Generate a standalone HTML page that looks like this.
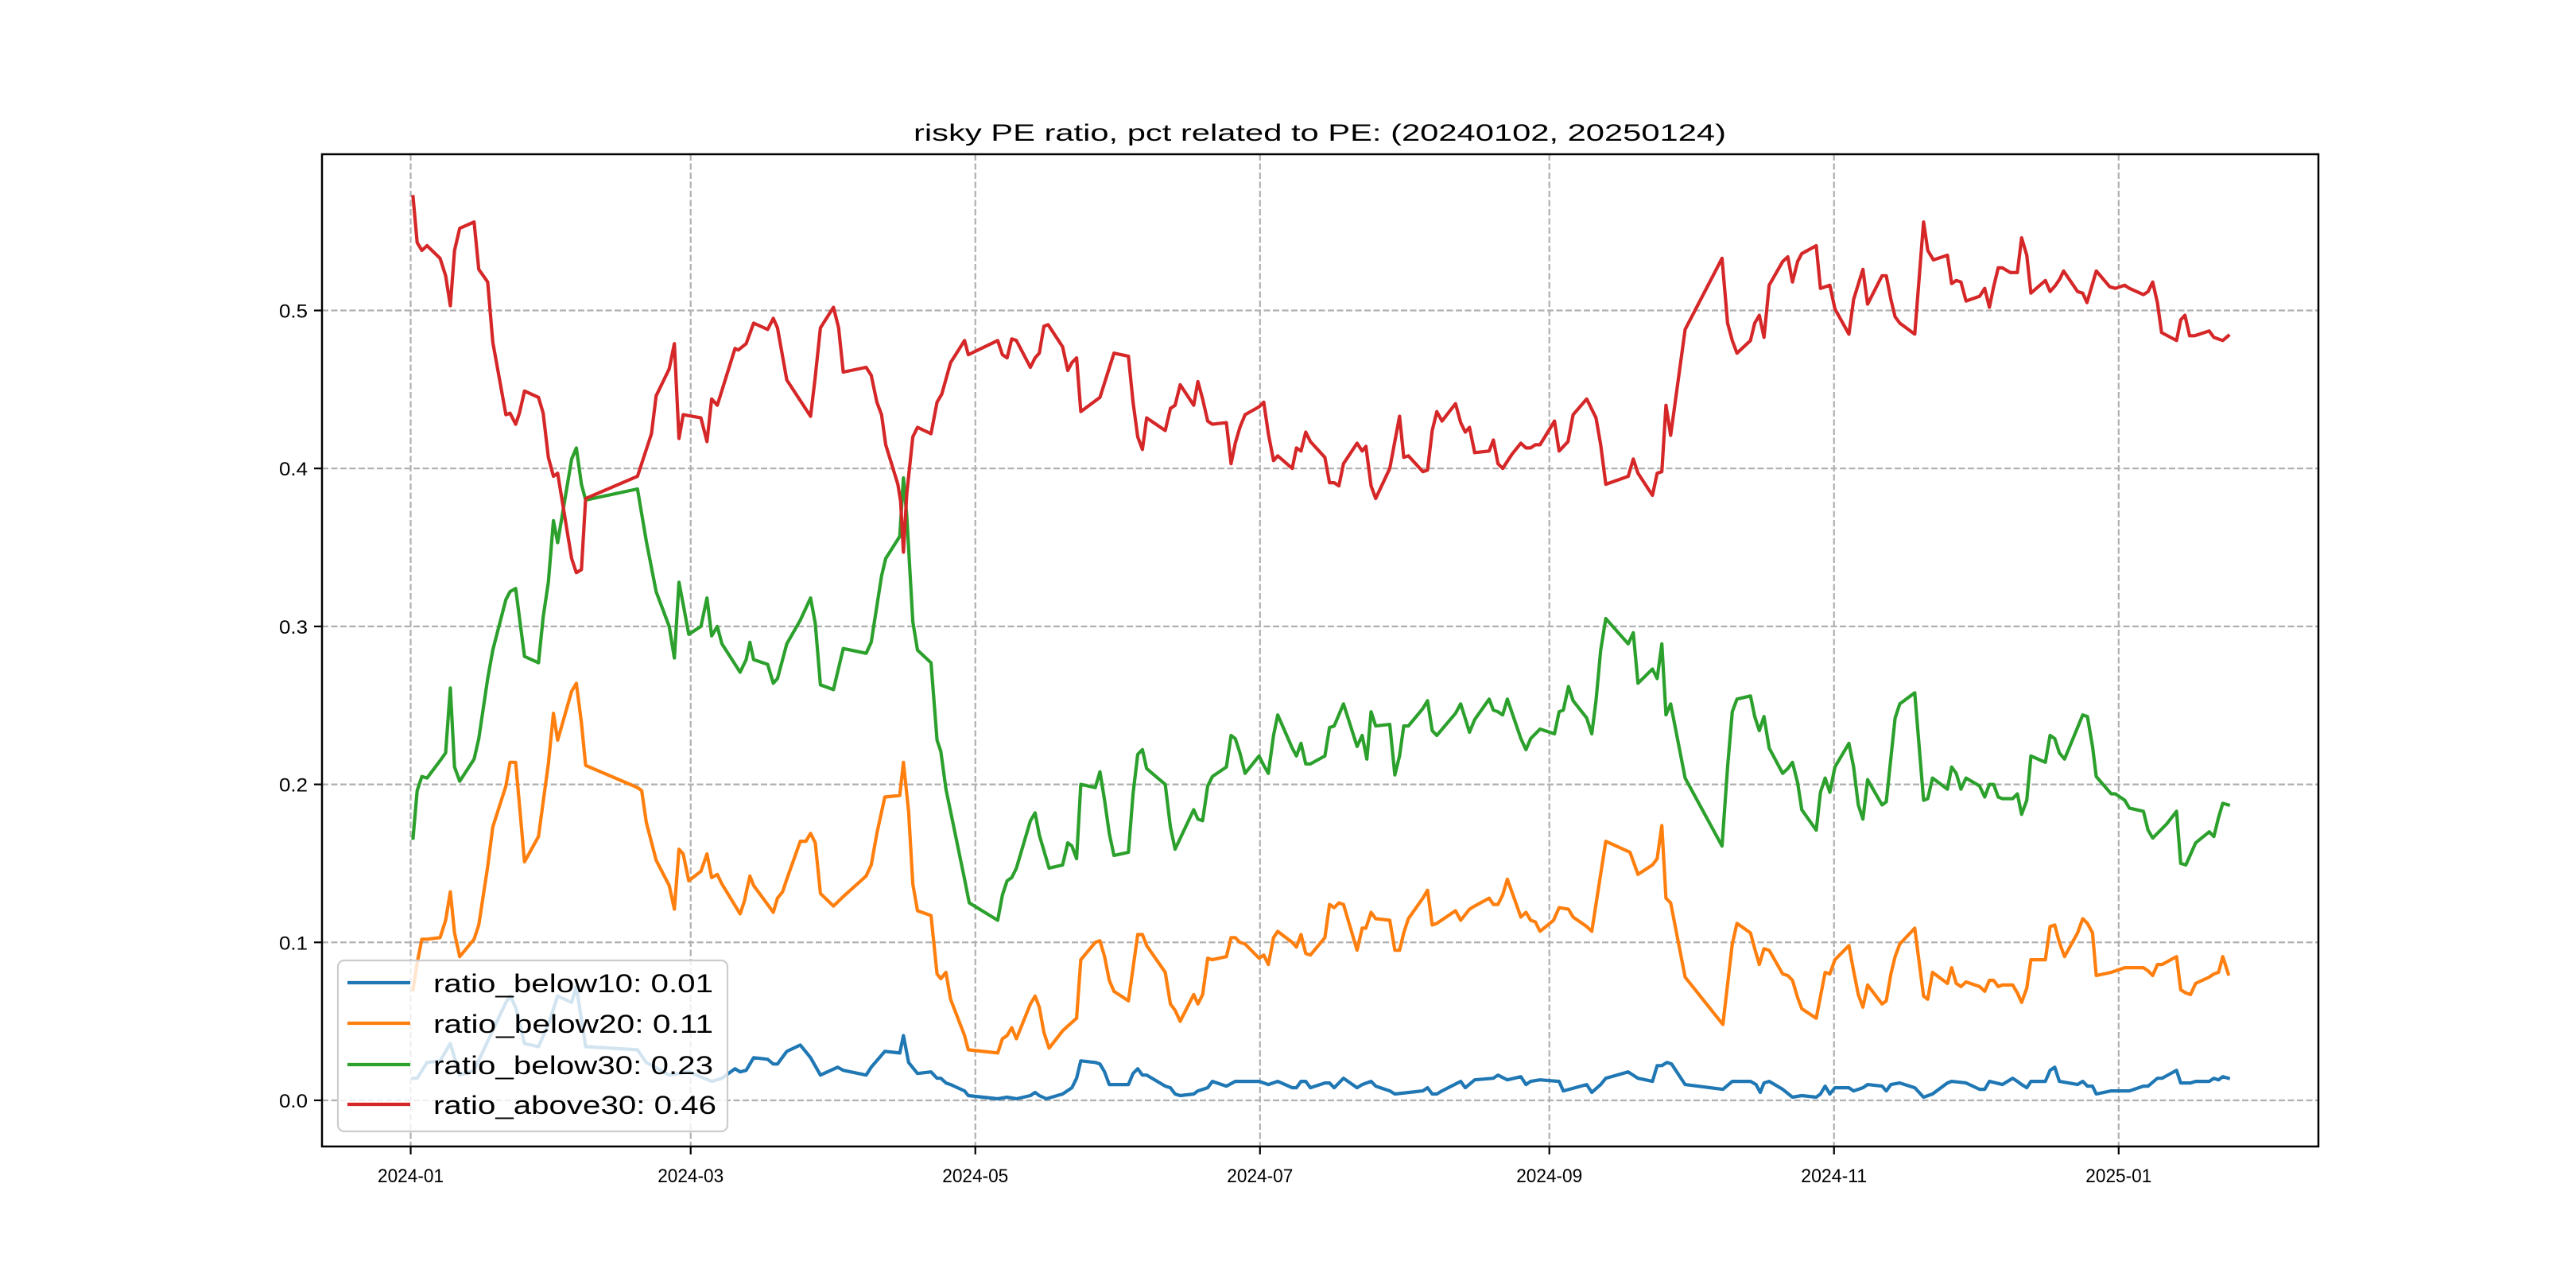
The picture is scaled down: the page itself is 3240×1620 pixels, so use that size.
<!DOCTYPE html>
<html><head><meta charset="utf-8"><title>risky PE ratio</title>
<style>html,body{margin:0;padding:0;background:#fff;}svg{display:block;}text{font-family:"Liberation Sans","WenQuanYi Zen Hei",sans-serif;fill:#000;}</style>
</head><body>
<svg id="chart" xmlns="http://www.w3.org/2000/svg" width="3240" height="1620" viewBox="0 0 3240 1620">
<rect x="0" y="0" width="3240" height="1620" fill="#fff"/>
<g id="grid"></g>
<g id="series"></g>
<rect x="405" y="194" width="2511" height="1248" fill="none" stroke="#000" stroke-width="2.5"/>
<g id="ticks"></g>
<text x="1660" y="177" font-size="30" text-anchor="middle" textLength="1022" lengthAdjust="spacingAndGlyphs">risky PE ratio, pct related to PE: (20240102, 20250124)</text>
<g id="legend"></g>
</svg>
<script>
// day offsets from 2024-01-01 and values per series
const xTickDays = [0, 60, 121, 182, 244, 305, 366];
const xTickLabels = ["2024-01","2024-03","2024-05","2024-07","2024-09","2024-11","2025-01"];
const yTicks = [0.0, 0.1, 0.2, 0.3, 0.4, 0.5];
const yTickLabels = ["0.0","0.1","0.2","0.3","0.4","0.5"];
const seriesNames = ["ratio_below10","ratio_below20","ratio_below30","ratio_above30"];
const legendValues = ["0.01","0.11","0.23","0.46"];

const daysB10 = [0.5,1.4,3.5,6.3,8.5,10.5,13.6,20.4,21.3,22.5,24.4,27.4,29.5,31.5,34.5,35.5,37.5,48.6,50.5,55.4,59.6,64.5,66.7,69.5,70.6,71.9,73.5,76.5,77.7,78.6,80.6,83.5,85.7,87.8,91.5,92.7,97.6,98.7,101.6,104.8,105.6,106.7,108.6,111.5,112.8,
113.6,114.7,115.7,118.7,119.5,125.8,127.8,129.8,132.8,133.8,134.7,136.2,139.7,141.7,142.7,143.6,146.7,147.7,148.7,149.7,150.7,153.8,154.8,155.8,156.8,157.7,161.7,162.8,163.8,164.9,167.8,168.7,170.8,171.8,174.8,176.7,177.7,181.8,183.8,185.8,188.9,189.8,190.8,191.8,192.8,195.9,196.9,197.9,199.9,202.8,203.9,205.8,206.8,209.8,210.9,216.9,217.9,218.9,219.9,221,225,226,
228,232,233,235,237.9,239,240,242,246.1,247,252,253.1,255,256.1,260.9,263,266.1,267.1,268.1,269.2,270.2,273.1,281.2,283.2,284.2,287.1,288.3,289.2,290,291.1,294,296.1,298.1,301.2,302.1,303.1,304.1,305.2,308.2,309.2,311.2,312.2,315.3,316.2,317.2,319.1,322.3,324.2,326.1,329.3,330.2,333.3,336.2,337.3,338.3,341.1,
343.3,344.3,345.2,346.3,347.2,350.3,351.3,352.3,353.3,357.2,358.3,359.3,360.4,361.2,364.4,368.3,371.3,372.3,374.3,375.3,378.4,379.3,381.4,382.5,385.4,386.4,387.4,388.3,389.5];
const valsB10 = [0.014,0.014,0.024,0.025,0.036,0.016,0.019,0.062,0.066,0.059,0.036,0.034,0.048,0.066,0.062,0.072,0.034,0.032,0.024,0.016,0.018,0.012,0.014,0.020,0.018,0.019,0.027,0.026,0.023,0.023,0.031,0.035,0.027,0.016,0.021,0.019,0.016,0.021,0.031,0.030,0.041,0.024,0.017,0.018,0.014,
0.014,0.011,0.010,0.006,0.003,0.001,0.002,0.001,0.003,0.005,0.003,0.001,0.004,0.008,0.014,0.025,0.024,0.023,0.018,0.010,0.010,0.010,0.017,0.020,0.016,0.016,0.009,0.008,0.004,0.003,0.004,0.006,0.008,0.012,0.009,0.012,0.012,0.012,0.010,0.012,0.008,0.008,0.012,0.012,0.008,0.011,0.011,0.008,0.014,0.008,0.010,0.012,0.009,0.006,0.004,0.006,0.008,0.004,0.004,0.006,0.012,0.008,
0.013,0.014,0.016,0.013,0.015,0.010,0.012,0.013,0.012,0.006,0.010,0.005,0.010,0.014,0.018,0.014,0.012,0.022,0.022,0.024,0.023,0.010,0.007,0.012,0.012,0.012,0.010,0.005,0.011,0.012,0.007,0.002,0.003,0.002,0.004,0.009,0.004,0.008,0.008,0.006,0.008,0.010,0.009,0.006,0.010,0.011,0.008,0.002,0.004,0.011,0.012,0.011,0.007,0.007,0.012,0.010,
0.014,0.012,0.010,0.008,0.012,0.012,0.019,0.021,0.012,0.010,0.012,0.009,0.009,0.004,0.006,0.006,0.009,0.009,0.014,0.014,0.019,0.011,0.011,0.012,0.012,0.014,0.013,0.015,0.014];

const daysB20 = [0.5,1.4,2.4,3.5,6.3,7.5,8.5,9.4,10.5,13.6,14.6,16.5,17.6,20.4,21.3,22.5,24.4,27.4,28.4,29.5,30.6,31.5,34.5,35.5,36.6,37.5,48.6,49.5,50.5,52.6,55.4,56.5,57.5,58.4,59.6,62.2,63.5,64.5,65.7,66.7,70.6,71.5,72.7,73.5,76.5,77.7,78.6,79.7,80.6,83.5,84.7,85.7,86.7,87.8,90.6,92.7,97.6,98.7,99.9,101.6,104.8,105.6,106.7,107.6,108.6,111.5,112.8,
113.6,114.7,115.7,118.7,119.5,125.8,126.8,127.8,128.8,129.8,132.8,133.8,134.7,135.7,136.8,139.7,140.8,142.7,143.6,146.7,147.7,148.7,149.7,150.7,153.8,155.8,156.8,157.7,161.7,162.8,163.8,164.9,167.8,168.7,169.7,170.8,171.8,174.8,175.8,176.7,177.7,178.8,181.8,182.8,183.8,184.9,185.8,188.9,189.8,190.8,191.8,192.8,195.9,196.9,197.9,198.9,199.9,202.8,203.9,204.7,205.8,206.8,209.8,210.9,211.9,212.8,213.8,216.9,217.9,218.9,219.9,223.9,225,226.9,
228,231.1,232,233,234,235,237.9,239,240,241,242,244.9,246.1,248.1,249.1,252,253.1,256.1,261.3,263,266.1,267.1,268.1,269,270,273.1,281.2,283.2,284.2,287.1,288,289,290,291.1,294,295.1,296.1,297.2,298.1,301.2,303.1,304.1,305.2,308.2,309.2,310.2,311.2,312.2,315.3,316.2,317.2,318.1,319.1,322.3,324.2,325.1,326.1,329.3,330.2,331.2,332.2,333.3,336.2,337.3,338.3,339.2,340.2,341.1,
343.3,344.3,345.2,346.3,347.2,350.3,351.3,352.3,353.3,354.4,357.2,358.3,359.3,360.4,361.2,364.4,367.3,371.3,372.3,373.3,374.3,375.3,378.4,379.3,380.4,381.4,382.5,385.4,386.4,387.4,388.3,389.5];
const valsB20 = [0.070,0.087,0.102,0.102,0.103,0.114,0.132,0.106,0.091,0.102,0.111,0.148,0.173,0.199,0.214,0.214,0.151,0.167,0.189,0.213,0.245,0.228,0.259,0.264,0.239,0.212,0.198,0.196,0.176,0.152,0.136,0.121,0.159,0.156,0.139,0.145,0.156,0.141,0.143,0.137,0.118,0.126,0.142,0.136,0.124,0.119,0.128,0.132,0.140,0.164,0.164,0.169,0.163,0.131,0.123,0.129,0.142,0.149,0.169,0.192,0.193,0.214,0.183,0.137,0.120,0.117,0.080,
0.077,0.081,0.064,0.041,0.032,0.030,0.039,0.041,0.046,0.039,0.061,0.066,0.059,0.043,0.033,0.044,0.047,0.052,0.089,0.100,0.101,0.091,0.076,0.069,0.063,0.105,0.105,0.098,0.081,0.061,0.057,0.050,0.067,0.061,0.067,0.090,0.089,0.091,0.103,0.103,0.100,0.099,0.090,0.092,0.086,0.103,0.107,0.100,0.097,0.105,0.093,0.092,0.103,0.124,0.122,0.125,0.124,0.095,0.109,0.109,0.119,0.115,0.114,0.095,0.095,0.106,0.115,0.128,0.133,0.111,0.112,0.120,0.114,0.121,
0.123,0.128,0.124,0.124,0.130,0.140,0.116,0.119,0.114,0.113,0.107,0.114,0.122,0.121,0.116,0.110,0.107,0.164,0.157,0.143,0.149,0.153,0.174,0.128,0.125,0.078,0.048,0.099,0.112,0.106,0.096,0.086,0.096,0.095,0.080,0.079,0.076,0.065,0.058,0.052,0.081,0.080,0.089,0.098,0.082,0.067,0.059,0.073,0.061,0.063,0.080,0.091,0.099,0.109,0.066,0.064,0.081,0.074,0.084,0.074,0.072,0.075,0.072,0.069,0.076,0.076,0.072,0.073,
0.073,0.068,0.062,0.071,0.089,0.089,0.110,0.111,0.100,0.091,0.106,0.115,0.112,0.106,0.079,0.081,0.084,0.084,0.082,0.079,0.086,0.086,0.091,0.070,0.068,0.067,0.074,0.078,0.080,0.081,0.091,0.080];

const daysB30 = [0.5,1.4,2.4,3.5,6.3,7.5,8.5,9.4,10.5,13.6,14.6,16.5,17.6,20.4,21.3,22.5,24.4,27.4,28.4,29.5,30.6,31.5,34.5,35.5,36.6,37.5,48.6,50.5,52.6,55.4,56.5,57.5,58.4,59.6,62.2,63.5,64.5,65.7,66.7,70.6,71.9,72.7,73.5,76.5,77.7,78.6,80.6,83.5,85.7,86.7,87.8,90.6,92.7,97.6,98.7,100.9,101.8,104.8,105.6,106.3,107.6,108.6,111.5,112.8,
113.6,114.7,118.7,119.7,125.8,126.8,127.8,128.8,129.8,132.8,133.8,134.7,136.8,139.7,140.8,141.7,142.7,143.6,146.7,147.7,148.7,149.7,150.7,153.8,154.8,155.8,156.8,157.7,161.7,162.8,163.8,167.8,168.7,169.7,170.8,171.8,174.8,175.8,176.7,177.7,178.8,181.8,182.8,183.8,184.9,185.8,188.9,189.8,190.8,191.8,192.8,195.9,196.9,197.9,199.9,202.8,203.9,204.9,205.8,206.8,209.8,210.9,211.9,212.8,213.8,216.9,217.9,218.9,219.9,223.9,225,226.9,
228,231.1,232,233,234,235,237.9,239,240,242,245.1,246.1,247,248.1,249.1,252,253.1,254,255,256.1,260.9,262,263,266.1,267.1,268.1,269,270,273.1,281,282.2,283.2,284.2,287.1,288,289,290,291.1,294,295.1,296.1,297.2,298.1,301.2,302.1,303.1,304.1,305.2,308.2,309.2,310.2,311.2,312.2,315.3,316.2,318.1,319.1,322.3,324.2,325.1,326.1,329.3,330.2,331.2,332.2,333.3,336.2,337.3,338.3,339.2,340.2,341.1,
343.3,344.3,345.2,346.3,347.2,350.3,351.3,352.3,353.3,354.4,357.2,358.3,359.3,360.4,361.2,364.4,365.3,367.3,368.3,371.3,372.3,373.3,374.3,376.3,378.4,379.3,380.4,382.5,385.4,386.4,387.4,388.3,389.5];
const valsB30 = [0.166,0.196,0.205,0.204,0.215,0.220,0.261,0.211,0.202,0.216,0.229,0.267,0.285,0.317,0.322,0.324,0.281,0.277,0.306,0.328,0.367,0.353,0.406,0.413,0.390,0.380,0.387,0.354,0.322,0.300,0.280,0.328,0.314,0.295,0.300,0.318,0.294,0.300,0.289,0.271,0.279,0.290,0.279,0.276,0.264,0.267,0.289,0.304,0.318,0.302,0.263,0.260,0.286,0.283,0.290,0.332,0.343,0.357,0.394,0.370,0.303,0.285,0.277,0.228,
0.221,0.197,0.140,0.125,0.114,0.130,0.139,0.141,0.147,0.177,0.182,0.168,0.147,0.149,0.163,0.161,0.153,0.200,0.198,0.208,0.190,0.169,0.155,0.157,0.194,0.219,0.222,0.210,0.200,0.173,0.159,0.184,0.178,0.177,0.199,0.205,0.211,0.231,0.229,0.220,0.207,0.218,0.212,0.207,0.231,0.244,0.223,0.218,0.226,0.213,0.213,0.218,0.236,0.237,0.251,0.224,0.231,0.216,0.246,0.237,0.238,0.206,0.218,0.237,0.237,0.248,0.253,0.234,0.231,0.245,0.251,0.233,
0.241,0.254,0.247,0.246,0.244,0.254,0.229,0.222,0.229,0.235,0.232,0.246,0.247,0.262,0.253,0.242,0.232,0.253,0.285,0.305,0.289,0.296,0.264,0.273,0.267,0.289,0.244,0.251,0.204,0.161,0.211,0.246,0.254,0.256,0.243,0.234,0.243,0.223,0.207,0.210,0.214,0.201,0.184,0.171,0.195,0.204,0.195,0.211,0.226,0.211,0.187,0.178,0.203,0.187,0.189,0.242,0.251,0.258,0.190,0.191,0.204,0.197,0.211,0.207,0.197,0.204,0.199,0.192,0.200,0.200,0.192,0.191,
0.191,0.194,0.181,0.190,0.218,0.214,0.231,0.229,0.220,0.216,0.236,0.244,0.243,0.224,0.205,0.194,0.194,0.190,0.185,0.183,0.171,0.166,0.169,0.175,0.183,0.150,0.149,0.163,0.170,0.167,0.179,0.188,0.187];

const daysA30 = [0.5,1.4,2.4,3.5,6.3,7.5,8.5,9.4,10.5,13.6,14.6,16.5,17.6,20.4,21.3,22.5,23.3,24.4,27.4,28.4,29.5,30.6,31.5,34.5,35.5,36.6,37.5,48.6,51.6,52.6,55.4,56.5,57.5,58.4,62.2,63.5,64.5,65.7,69.5,70.2,71.9,73.5,76.5,77.7,78.6,80.6,85.7,86.7,87.8,90.6,91.7,92.7,97.6,98.7,99.9,100.9,101.8,104.4,105,105.6,106.3,107.6,108.6,111.5,112.8,
113.8,115.7,118.7,119.5,125.8,126.8,127.8,128.8,129.8,132.8,133.8,134.7,135.7,136.6,139.7,140.8,141.7,142.7,143.6,147.7,150.7,153.8,154.8,155.8,156.8,157.7,161.7,162.8,163.8,164.9,167.8,168.7,169.7,170.8,171.8,174.8,175.8,176.7,177.7,178.8,181.8,182.8,183.8,184.9,185.8,188.9,189.8,190.8,191.8,192.8,195.9,196.9,197.9,198.9,199.9,202.8,203.9,204.7,205.8,206.8,209.8,211.9,212.8,213.8,216.9,217.9,218.9,219.9,221,223.9,225,226,226.9,
228,231.1,232,233,234,236,237.9,239,240,241,242,245.1,246.1,248,249.1,252,254,255,256.1,260.9,262,263,266.1,267.1,268.1,269,270,273.1,281,282.2,283.2,284.2,287.1,288,289,290,291.1,294,295.1,296.1,297.2,298.1,301.2,302.1,304.1,305.2,308.2,309.2,311.2,312.2,315.3,316.2,317.2,318.1,319.1,322.3,324.2,325.1,326.3,329.3,330.2,331.2,332.2,333.3,336.2,337.3,338.3,339.2,340.2,341.1,
342.8,344.3,345.2,346.3,347.2,350.3,351.3,352.5,353.4,354.2,357.2,358.3,359.2,361.2,364.1,365.3,367.3,368.3,371.3,372.3,373.3,374.3,375.2,378.4,379.3,380.2,381.2,382.3,385.4,386.4,388.3,389.5];
const valsA30 = [0.572,0.543,0.538,0.541,0.533,0.522,0.503,0.538,0.552,0.556,0.526,0.518,0.480,0.434,0.435,0.428,0.435,0.449,0.445,0.435,0.407,0.395,0.397,0.343,0.334,0.336,0.381,0.395,0.422,0.446,0.463,0.479,0.419,0.434,0.432,0.417,0.444,0.440,0.476,0.475,0.479,0.492,0.488,0.495,0.489,0.456,0.433,0.458,0.489,0.502,0.489,0.461,0.464,0.459,0.442,0.434,0.415,0.390,0.379,0.347,0.384,0.420,0.426,0.422,0.442,
0.447,0.467,0.481,0.472,0.481,0.472,0.470,0.482,0.481,0.464,0.470,0.473,0.490,0.491,0.477,0.462,0.467,0.470,0.436,0.445,0.473,0.471,0.442,0.420,0.412,0.432,0.424,0.438,0.440,0.453,0.440,0.455,0.444,0.430,0.428,0.429,0.403,0.416,0.426,0.434,0.439,0.442,0.422,0.405,0.408,0.400,0.413,0.411,0.423,0.417,0.407,0.391,0.391,0.389,0.403,0.416,0.411,0.414,0.389,0.381,0.400,0.433,0.407,0.408,0.398,0.399,0.424,0.436,0.430,0.441,0.429,0.423,0.426,
0.410,0.411,0.418,0.403,0.400,0.409,0.416,0.413,0.413,0.415,0.415,0.430,0.411,0.417,0.434,0.444,0.432,0.415,0.390,0.395,0.406,0.397,0.383,0.397,0.398,0.440,0.421,0.488,0.533,0.492,0.481,0.473,0.481,0.492,0.497,0.483,0.516,0.531,0.534,0.518,0.531,0.536,0.541,0.514,0.516,0.501,0.485,0.507,0.526,0.504,0.522,0.522,0.507,0.496,0.492,0.485,0.556,0.538,0.532,0.535,0.517,0.519,0.518,0.506,0.509,0.514,0.502,0.515,0.527,0.527,
0.524,0.524,0.546,0.535,0.511,0.519,0.512,0.516,0.520,0.525,0.512,0.511,0.505,0.525,0.515,0.514,0.516,0.514,0.510,0.512,0.518,0.505,0.486,0.481,0.494,0.497,0.484,0.484,0.487,0.483,0.481,0.484];

const NS = "http://www.w3.org/2000/svg";
const AX = {x0: 405, x1: 2916, y0: 194, y1: 1442, dmin: -19.0, dmax: 408.8, vmin: -0.0292, vmax: 0.5989};
function xScale(d) { return AX.x0 + (d - AX.dmin) / (AX.dmax - AX.dmin) * (AX.x1 - AX.x0); }
function yScale(v) { return AX.y1 - (v - AX.vmin) / (AX.vmax - AX.vmin) * (AX.y1 - AX.y0); }
function mk(tag, attrs, parent) {
  const el = document.createElementNS(NS, tag);
  for (const k in attrs) el.setAttribute(k, attrs[k]);
  parent.appendChild(el);
  return el;
}
const gGrid = document.getElementById('grid');
const gTicks = document.getElementById('ticks');
const gSeries = document.getElementById('series');
const gLegend = document.getElementById('legend');

xTickDays.forEach((d, i) => {
  const x = xScale(d);
  const gl = mk('line', {x1: x, x2: x, y1: AX.y0, y2: AX.y1, stroke: '#b0b0b0', 'stroke-width': 2.2, 'stroke-dasharray': '8,3.5'}, gGrid);
  
  
  const tk = mk('line', {x1: x, x2: x, y1: AX.y1, y2: AX.y1 + 10, stroke: '#000', 'stroke-width': 2.2}, gTicks);
  
  
  const t = mk('text', {x: x, y: AX.y1 + 45, 'font-size': 24, 'text-anchor': 'middle', textLength: 83, lengthAdjust: 'spacingAndGlyphs'}, gTicks);
  t.textContent = xTickLabels[i];
  
  
});
yTicks.forEach((v, i) => {
  const y = yScale(v);
  const gl = mk('line', {x1: AX.x0, x2: AX.x1, y1: y, y2: y, stroke: '#b0b0b0', 'stroke-width': 2.2, 'stroke-dasharray': '8,3.5'}, gGrid);
  
  
  const tk = mk('line', {x1: AX.x0 - 10, x2: AX.x0, y1: y, y2: y, stroke: '#000', 'stroke-width': 2.2}, gTicks);
  
  
  const t = mk('text', {x: 387, y: y + 9, 'font-size': 24, 'text-anchor': 'end', textLength: 36, lengthAdjust: 'spacingAndGlyphs'}, gTicks);
  t.textContent = yTickLabels[i];
  
  
});

const colors = ['#1f77b4', '#ff7f0e', '#2ca02c', '#d62728'];
const allDays = [daysB10, daysB20, daysB30, daysA30];
const allVals = [valsB10, valsB20, valsB30, valsA30];
allDays.forEach((ds, s) => {
  const vs = allVals[s];
  const n = Math.min(ds.length, vs.length);
  let p = '';
  for (let i = 0; i < n; i++) p += (i ? 'L' : 'M') + xScale(ds[i]).toFixed(1) + ',' + yScale(vs[i]).toFixed(1);
  const path = mk('path', {d: p, fill: 'none', stroke: colors[s], 'stroke-width': 4.2, 'stroke-linejoin': 'round', 'stroke-linecap': 'square'}, gSeries);
  
  
});

const lbox = mk('rect', {x: 425, y: 1208, width: 490, height: 215, rx: 8, fill: '#fff', 'fill-opacity': 0.8, stroke: '#cccccc', 'stroke-width': 2.2}, gLegend);


const rowsY = [1236, 1287, 1339, 1389];
seriesNames.forEach((nm, s) => {
  const g = mk('g', {}, gLegend);
  
  
  const ln = mk('line', {x1: 437, x2: 516, y1: rowsY[s], y2: rowsY[s], stroke: colors[s], 'stroke-width': 4.2}, g);
  
  
  const t = mk('text', {x: 545, y: rowsY[s] + 12, 'font-size': 32, textLength: s === 3 ? 356 : 352, lengthAdjust: 'spacingAndGlyphs'}, g);
  t.textContent = nm + ': ' + legendValues[s];
  
  
});
</script>
</body></html>
